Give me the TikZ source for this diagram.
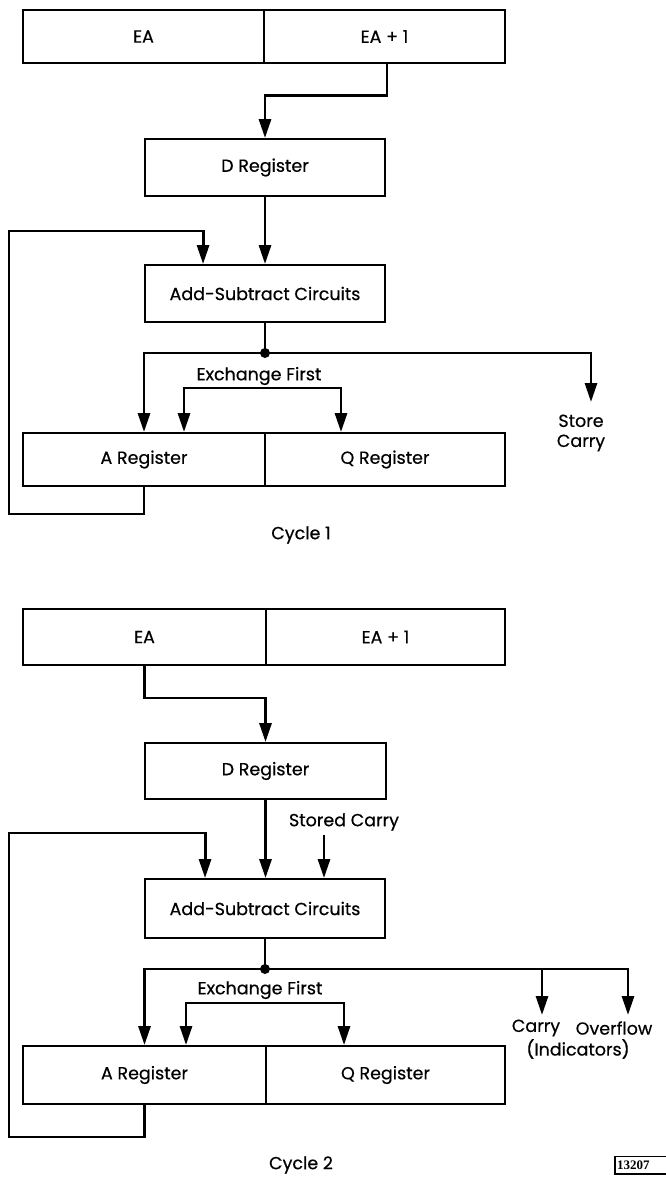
\documentclass[tikz,border=0pt]{standalone}
\usepackage{fontspec}
\setmainfont{Poppins}[FakeBold=0.5]
\newfontfamily\tagfont{Liberation Serif}
\usetikzlibrary{arrows.meta}

\tikzset{
  reg/.style={draw, line width=1.9pt, rectangle, inner sep=0pt, font=\fontsize{17.5}{20}\selectfont},
  conn/.style={line width=2.9pt},
  arr/.style={conn, -{Triangle[length=19pt,width=12pt]}},
  twoarr/.style={conn, {Triangle[length=19pt,width=12pt]}-{Triangle[length=19pt,width=12pt]}},
  lbl/.style={inner sep=0pt, align=center, font=\fontsize{17.5}{20}\selectfont},
  dotj/.style={fill=black},
}

\begin{document}
\begin{tikzpicture}[x=1pt,y=-1pt]
\useasboundingbox (0,0) rectangle (665,1185);

% ---------------- Cycle 1 ----------------
\node[reg, minimum width=241pt, minimum height=53pt] (ea1)  at (143.5,36.5) {EA};
\node[reg, minimum width=241pt, minimum height=53pt] (eap1) at (384.5,36.5) {EA + 1};
\node[reg, minimum width=240pt, minimum height=57pt] (d1)   at (265,167.5) {D Register};
\node[reg, minimum width=240pt, minimum height=57pt] (asc1) at (265,293.5) {Add-Subtract Circuits};
\node[reg, minimum width=242pt, minimum height=53pt] (a1)   at (144,459.5) {A Register};
\node[reg, minimum width=240pt, minimum height=53pt] (q1)   at (385,459.5) {Q Register};

\coordinate (j1)  at (265,353);
\coordinate (l1)  at (9,231);
\coordinate (sc1) at (591,402);
\coordinate (xf1) at (260,388);

\draw[arr] ([xshift=2.5pt]eap1.south) -- ++(0,32) -| (d1.north);
\draw[arr] (d1.south) -- (asc1.north);
\draw[arr] (a1.south) -- ++(0,27) -| (l1) -| ([xshift=59pt]asc1.north west);
\draw[conn] (asc1.south) -- (j1);
\draw[arr] (j1) -| (a1.north);
\draw[arr] (j1) -| (sc1);
\fill[dotj] (j1) circle (5pt);
\draw[twoarr] ([xshift=40pt]a1.north) |- (xf1) -| ([xshift=-44pt]q1.north);

\node[lbl] (xl1) at (259,376) {Exchange First};
\node[lbl] (st1) at (581,433) {Store\\Carry};
\node[lbl] (cy1) at (301,535) {Cycle 1};

% ---------------- Cycle 2 ----------------
\node[reg, minimum width=243pt, minimum height=56pt] (ea2)  at (144.5,637) {EA};
\node[reg, minimum width=239pt, minimum height=56pt] (eap2) at (385.5,637) {EA + 1};
\node[reg, minimum width=241pt, minimum height=56pt] (d2)   at (265.5,771) {D Register};
\node[reg, minimum width=240pt, minimum height=59pt] (asc2) at (265,908.5) {Add-Subtract Circuits};
\node[reg, minimum width=243pt, minimum height=58pt] (a2)   at (144.5,1075) {A Register};
\node[reg, minimum width=239pt, minimum height=58pt] (q2)   at (385.5,1075) {Q Register};

\coordinate (j2)  at (265,969);
\coordinate (l2)  at (9,833);
\coordinate (sc2) at (324,835);
\coordinate (cb2) at (542,969);
\coordinate (ct2) at (542,1015);
\coordinate (ov2) at (628,1015);
\coordinate (xf2) at (260,1003);

\draw[arr] (ea2.south) -- ++(0,32) -| (d2.north);
\draw[arr] (d2.south) -- (d2.south |- asc2.north);
\draw[arr] (sc2) -- (sc2 |- asc2.north);
\draw[arr] (a2.south) -- ++(0,32) -| (l2) -| ([xshift=61pt]asc2.north west);
\draw[conn] (asc2.south) -- (j2);
\draw[arr] (j2) -| (a2.north);
\draw[arr] (j2) -| (ov2);
\draw[arr] (cb2) -- (ct2);
\fill[dotj] (j2) circle (5pt);
\draw[twoarr] ([xshift=41.5pt]a2.north) |- (xf2) -| ([xshift=-41.5pt]q2.north);

\node[lbl] (sct2) at (344,822) {Stored Carry};
\node[lbl] (xl2)  at (260,990) {Exchange First};
\node[lbl] (car2) at (536,1028) {Carry};
\node[lbl] (ovf2) at (614,1028) {Overflow};
\node[lbl] (ind2) at (578,1049) {(Indicators)};
\node[lbl] (cy2)  at (301,1165) {Cycle 2};

% figure number tag
\node[draw, line width=1pt, inner sep=1.5pt, anchor=north west, minimum height=17pt,
      text width=50pt, font=\tagfont\bfseries\fontsize{13}{13}\selectfont] (tag) at (615,1156) {13207};
\draw[line width=2pt] (tag.north west) -- (tag.south west) -- (tag.south east);
\end{tikzpicture}
\end{document}
